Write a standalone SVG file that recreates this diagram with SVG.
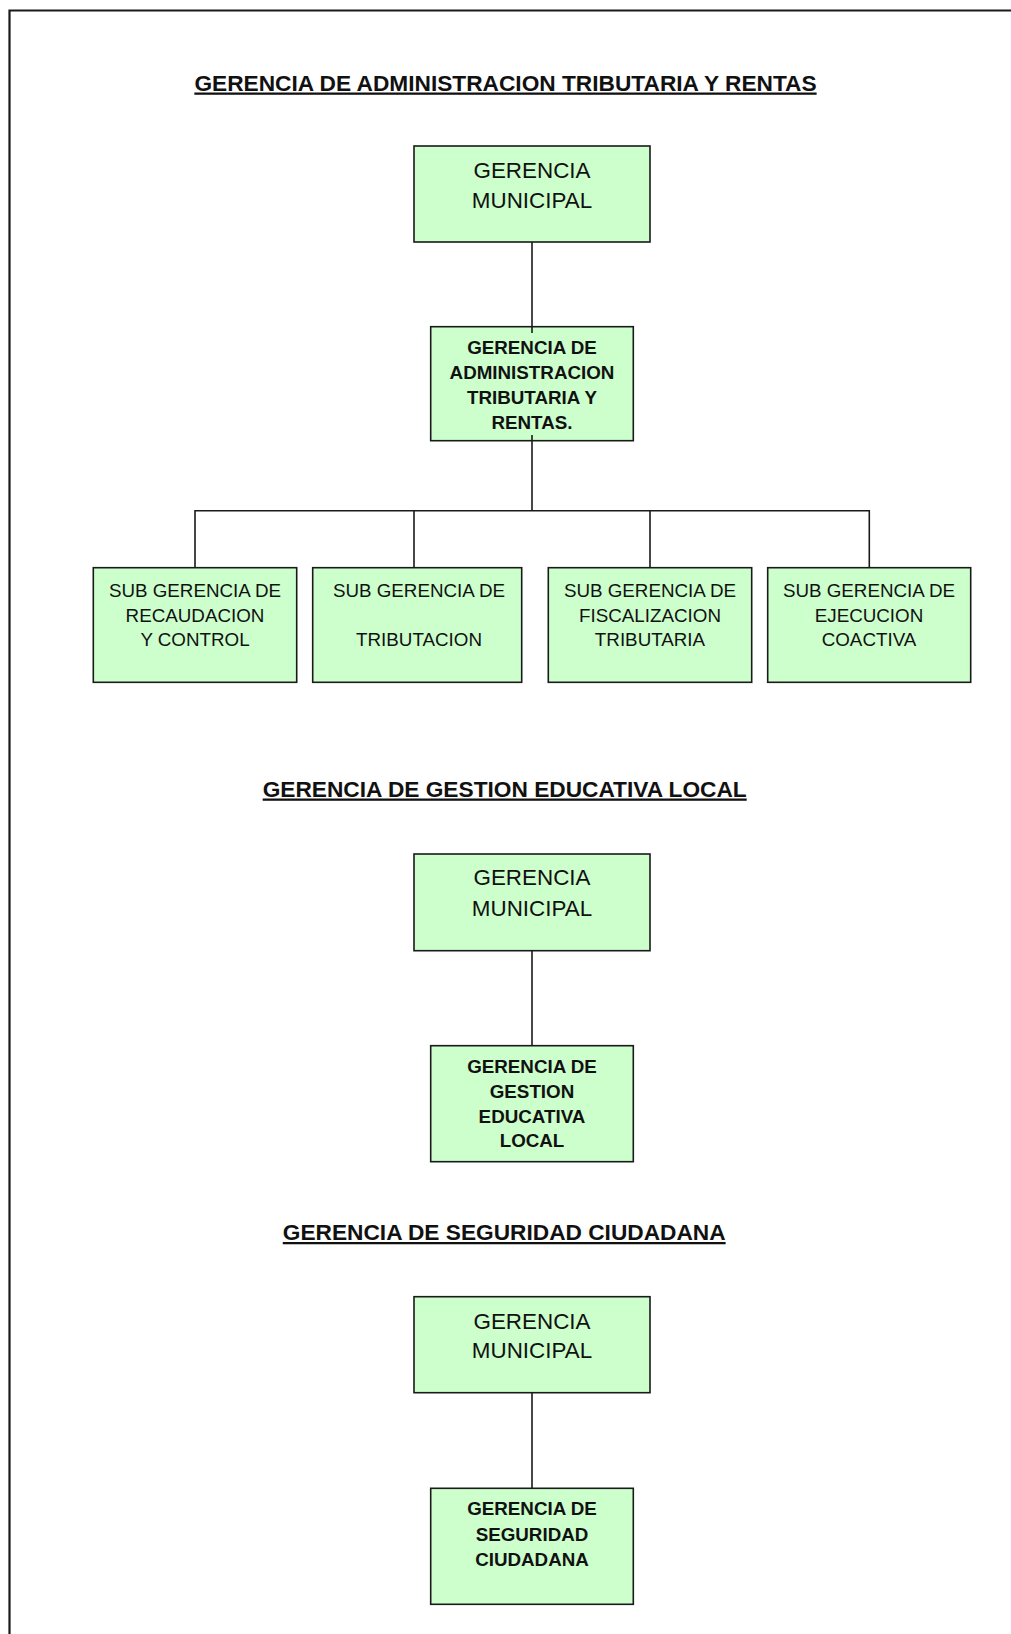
<svg xmlns="http://www.w3.org/2000/svg" width="1011" height="1634" viewBox="0 0 1011 1634">
<style>
.box{fill:#ccffcc;stroke:#1a1a1a;stroke-width:1.6}
.ln{stroke:#1a1a1a;stroke-width:1.6;fill:none}
.title{font-family:"Liberation Sans",Arial,sans-serif;font-weight:bold;font-size:22.7px;fill:#111;text-anchor:middle;text-decoration:underline}
.gm{font-family:"Liberation Sans",Arial,sans-serif;font-size:22.4px;fill:#111;text-anchor:middle}
.gb{font-family:"Liberation Sans",Arial,sans-serif;font-weight:bold;font-size:18.8px;fill:#111;text-anchor:middle}
.sb{font-family:"Liberation Sans",Arial,sans-serif;font-size:18.8px;fill:#111;text-anchor:middle}
</style>
<rect x="0" y="0" width="1011" height="1634" fill="#ffffff"/>
<path d="M9.5,1634 V10.5 H1011" fill="none" stroke="#1a1a1a" stroke-width="2.2"/>

<text class="title" x="505.5" y="90.5">GERENCIA DE ADMINISTRACION TRIBUTARIA Y RENTAS</text>
<text class="title" x="504.7" y="796.5">GERENCIA DE GESTION EDUCATIVA LOCAL</text>
<text class="title" x="504.2" y="1240">GERENCIA DE SEGURIDAD CIUDADANA</text>

<g id="gm1">
<rect class="box" x="414" y="146" width="236" height="96"/>
<text class="gm" x="532" y="178">GERENCIA</text>
<text class="gm" x="532" y="208">MUNICIPAL</text>
</g>
<g id="gatr">
<rect class="box" x="430.7" y="326.7" width="202.6" height="114"/>
<text class="gb" x="532" y="353.5">GERENCIA DE</text>
<text class="gb" x="532" y="378.5">ADMINISTRACION</text>
<text class="gb" x="532" y="403.5">TRIBUTARIA Y</text>
<text class="gb" x="532" y="428.5">RENTAS.</text>
</g>
<g id="sg1">
<rect class="box" x="93.3" y="567.7" width="203.4" height="114.6"/>
<text class="sb" x="195" y="597">SUB GERENCIA DE</text>
<text class="sb" x="195" y="621.5">RECAUDACION</text>
<text class="sb" x="195" y="646">Y CONTROL</text>
</g>
<g id="sg2">
<rect class="box" x="312.7" y="567.7" width="209" height="114.6"/>
<text class="sb" x="419" y="597">SUB GERENCIA DE</text>
<text class="sb" x="419" y="646">TRIBUTACION</text>
</g>
<g id="sg3">
<rect class="box" x="548.3" y="567.7" width="203.4" height="114.6"/>
<text class="sb" x="650" y="597">SUB GERENCIA DE</text>
<text class="sb" x="650" y="621.5">FISCALIZACION</text>
<text class="sb" x="650" y="646">TRIBUTARIA</text>
</g>
<g id="sg4">
<rect class="box" x="767.7" y="567.7" width="203" height="114.6"/>
<text class="sb" x="869" y="597">SUB GERENCIA DE</text>
<text class="sb" x="869" y="621.5">EJECUCION</text>
<text class="sb" x="869" y="646">COACTIVA</text>
</g>

<g id="gm2">
<rect class="box" x="414" y="854" width="236" height="96.7"/>
<text class="gm" x="532" y="885">GERENCIA</text>
<text class="gm" x="532" y="916">MUNICIPAL</text>
</g>
<g id="ggel">
<rect class="box" x="430.7" y="1045.7" width="202.6" height="116"/>
<text class="gb" x="532" y="1073.3">GERENCIA DE</text>
<text class="gb" x="532" y="1098">GESTION</text>
<text class="gb" x="532" y="1122.5">EDUCATIVA</text>
<text class="gb" x="532" y="1146.7">LOCAL</text>
</g>

<g id="gm3">
<rect class="box" x="414" y="1296.7" width="236" height="96"/>
<text class="gm" x="532" y="1329.3">GERENCIA</text>
<text class="gm" x="532" y="1358.3">MUNICIPAL</text>
</g>
<g id="gsc">
<rect class="box" x="430.7" y="1488.3" width="202.6" height="116"/>
<text class="gb" x="532" y="1515">GERENCIA DE</text>
<text class="gb" x="532" y="1540.5">SEGURIDAD</text>
<text class="gb" x="532" y="1566">CIUDADANA</text>
</g>

<g id="connectors">
<path class="ln" d="M532,242 V333"/>
<path class="ln" d="M532,435 V510.7"/>
<path class="ln" d="M195,567.7 V510.7 H869.3 V567.7"/>
<path class="ln" d="M414,510.7 V567.7"/>
<path class="ln" d="M650,510.7 V567.7"/>
<path class="ln" d="M532,950.7 V1045.7"/>
<path class="ln" d="M532,1392.7 V1488.3"/>
</g>
</svg>
